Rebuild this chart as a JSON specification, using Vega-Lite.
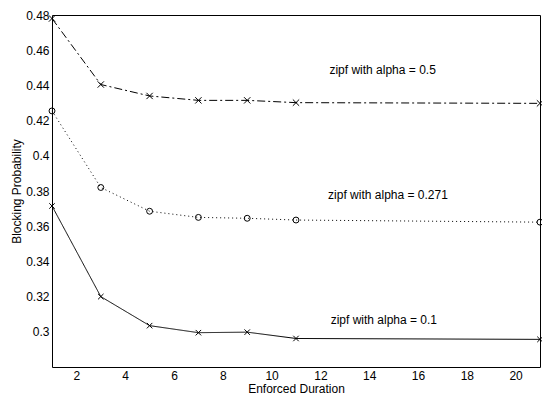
{
  "$schema": "https://vega.github.io/schema/vega-lite/v6.json",
  "autosize": "none",
  "width": 488,
  "height": 352,
  "padding": {"left": 52, "top": 15, "right": 2, "bottom": 28},
  "background": "white",
  "config": {
    "view": {"stroke": "black", "strokeWidth": 1},
    "font": "Liberation Sans"
  },
  "datasets": {
    "curves": [
      {"d": 1, "p": 0.478, "s": "0.5"},
      {"d": 3, "p": 0.4405, "s": "0.5"},
      {"d": 5, "p": 0.434, "s": "0.5"},
      {"d": 7, "p": 0.4315, "s": "0.5"},
      {"d": 9, "p": 0.4315, "s": "0.5"},
      {"d": 11, "p": 0.4302, "s": "0.5"},
      {"d": 21, "p": 0.4298, "s": "0.5"},
      {"d": 1, "p": 0.4255, "s": "0.271"},
      {"d": 3, "p": 0.382, "s": "0.271"},
      {"d": 5, "p": 0.3685, "s": "0.271"},
      {"d": 7, "p": 0.365, "s": "0.271"},
      {"d": 9, "p": 0.3645, "s": "0.271"},
      {"d": 11, "p": 0.3635, "s": "0.271"},
      {"d": 21, "p": 0.3623, "s": "0.271"},
      {"d": 1, "p": 0.3715, "s": "0.1"},
      {"d": 3, "p": 0.320, "s": "0.1"},
      {"d": 5, "p": 0.3035, "s": "0.1"},
      {"d": 7, "p": 0.2995, "s": "0.1"},
      {"d": 9, "p": 0.2998, "s": "0.1"},
      {"d": 11, "p": 0.2962, "s": "0.1"},
      {"d": 21, "p": 0.2957, "s": "0.1"}
    ],
    "labels": [
      {"d": 14.55, "p": 0.4488, "t": "zipf with alpha = 0.5"},
      {"d": 14.77, "p": 0.378, "t": "zipf with alpha = 0.271"},
      {"d": 14.6, "p": 0.3068, "t": "zipf with alpha = 0.1"}
    ],
    "yticks": [{"v": 0.3}, {"v": 0.32}, {"v": 0.34}, {"v": 0.36}, {"v": 0.38}, {"v": 0.4}, {"v": 0.42}, {"v": 0.44}, {"v": 0.46}],
    "xticks": [{"v": 2}, {"v": 4}, {"v": 6}, {"v": 8}, {"v": 10}, {"v": 12}, {"v": 14}, {"v": 16}, {"v": 18}, {"v": 20}]
  },
  "encoding": {
    "x": {"field": "d", "type": "quantitative", "scale": {"domain": [1, 21], "nice": false}, "axis": {"title": "Enforced Duration", "grid": false, "domain": false, "ticks": false, "values": [2,4,6,8,10,12,14,16,18,20], "labelPadding": 3, "labelColor": "black", "labelFont": "Liberation Sans", "labelFontSize": 12, "labelOverlap": false, "titleFont": "Liberation Sans", "titleFontSize": 12, "titleFontWeight": "normal", "titleColor": "black", "titlePadding": 2}},
    "y": {"field": "p", "type": "quantitative", "scale": {"domain": [0.28, 0.48], "nice": false, "zero": false}, "axis": {"title": "Blocking Probability", "grid": false, "domain": false, "ticks": false, "values": [0.3,0.32,0.34,0.36,0.38,0.4,0.42,0.44,0.46,0.48], "format": "~g", "labelPadding": 3, "labelColor": "black", "labelFont": "Liberation Sans", "labelFontSize": 12, "labelOverlap": false, "titleFont": "Liberation Sans", "titleFontSize": 12, "titleFontWeight": "normal", "titleColor": "black", "titlePadding": 2}}
  },
  "layer": [
    {
      "data": {"name": "yticks"},
      "mark": {"type": "rule", "color": "black", "strokeWidth": 1},
      "encoding": {"y": {"field": "v", "type": "quantitative"}, "x": {"datum": 1}, "x2": {"datum": 1.2}}
    },
    {
      "data": {"name": "yticks"},
      "mark": {"type": "rule", "color": "black", "strokeWidth": 1},
      "encoding": {"y": {"field": "v", "type": "quantitative"}, "x": {"datum": 20.8}, "x2": {"datum": 21}}
    },
    {
      "data": {"name": "xticks"},
      "mark": {"type": "rule", "color": "black", "strokeWidth": 1},
      "encoding": {"x": {"field": "v", "type": "quantitative"}, "y": {"datum": 0.28}, "y2": {"datum": 0.2828}}
    },
    {
      "data": {"name": "xticks"},
      "mark": {"type": "rule", "color": "black", "strokeWidth": 1},
      "encoding": {"x": {"field": "v", "type": "quantitative"}, "y": {"datum": 0.48}, "y2": {"datum": 0.4772}}
    },
    {
      "data": {"name": "curves"},
      "mark": {"type": "line", "color": "black", "strokeWidth": 1, "clip": false},
      "encoding": {
        "detail": {"field": "s"},
        "strokeDash": {"field": "s", "type": "nominal", "scale": {"domain": ["0.5", "0.271", "0.1"], "range": [[8, 3, 2, 3], [1, 3], [1, 0]]}, "legend": null}
      }
    },
    {
      "data": {"name": "curves"},
      "mark": {"type": "point", "filled": false, "color": "black", "strokeWidth": 1, "opacity": 1, "clip": false},
      "encoding": {
        "shape": {"field": "s", "type": "nominal", "scale": {"domain": ["0.5", "0.271", "0.1"], "range": ["M-1,-1L1,1M-1,1L1,-1", "circle", "M-1,-1L1,1M-1,1L1,-1"]}, "legend": null},
        "size": {"field": "s", "type": "nominal", "scale": {"domain": ["0.5", "0.271", "0.1"], "range": [40, 30, 40]}, "legend": null}
      }
    },
    {
      "data": {"name": "labels"},
      "mark": {"type": "text", "font": "Liberation Sans", "fontSize": 12, "color": "black", "align": "center", "baseline": "middle"},
      "encoding": {
        "text": {"field": "t"}
      }
    }
  ]
}
